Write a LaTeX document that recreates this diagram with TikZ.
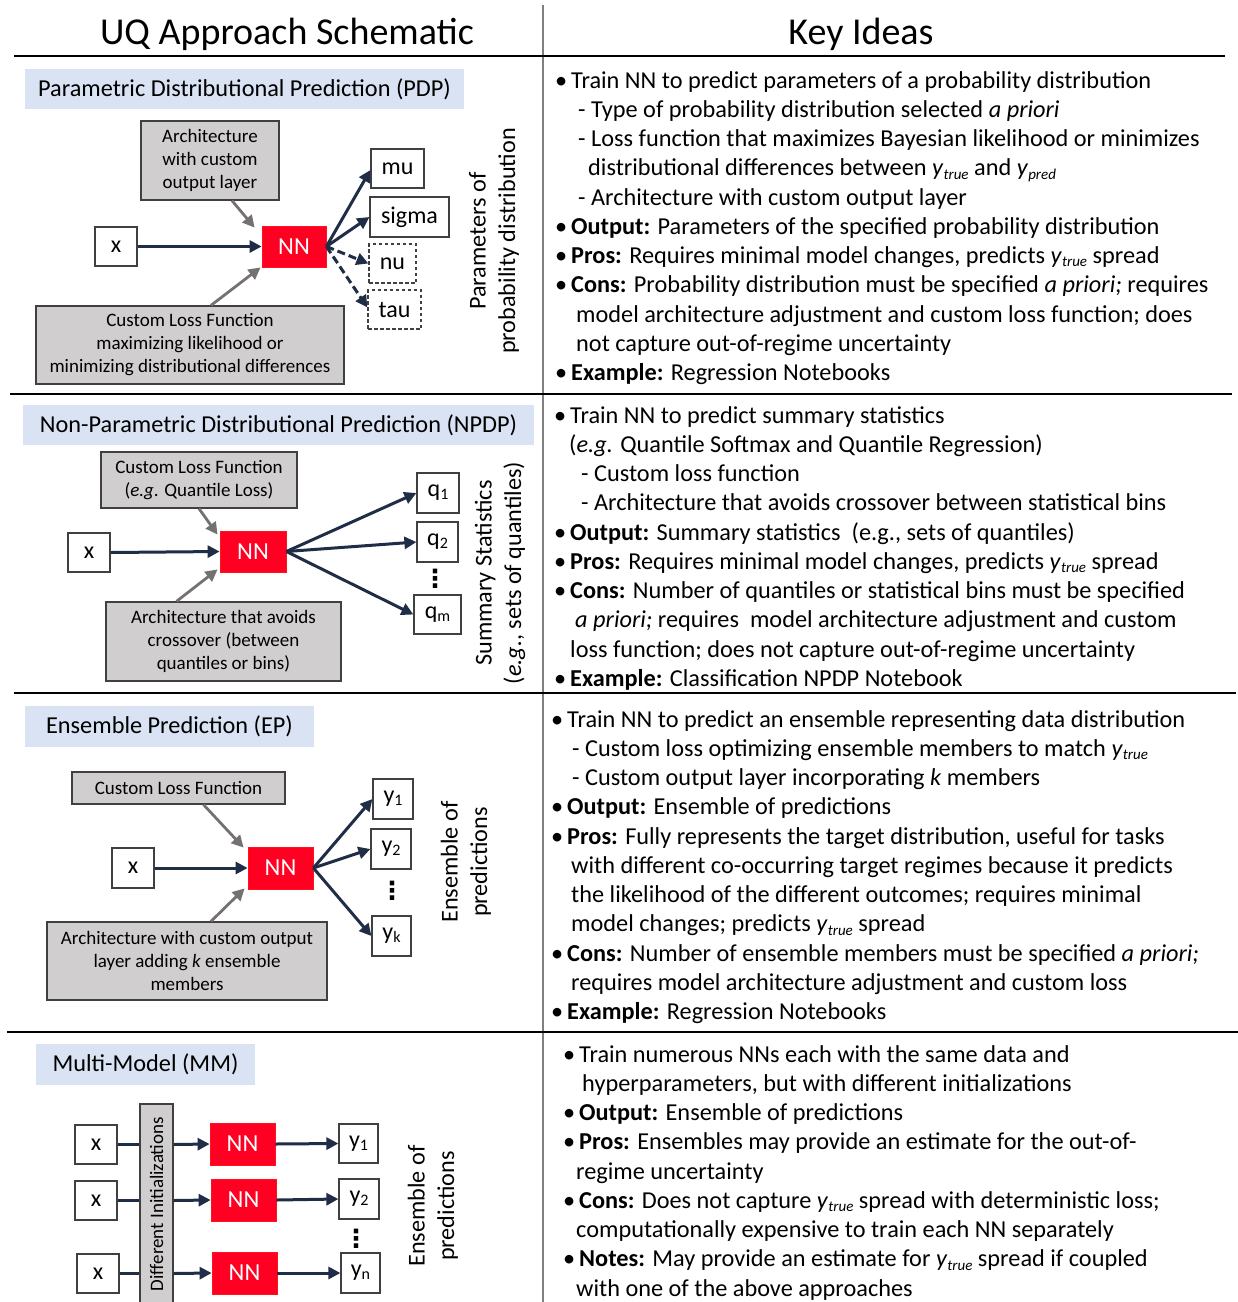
\documentclass[tikz,border=0pt]{standalone}
\usepackage{fontspec}
\setmainfont{Carlito}
\newfontfamily\symfont{DejaVu Sans}
\usetikzlibrary{arrows.meta,calc}

\definecolor{hdrblue}{HTML}{DAE3F3}
\definecolor{boxgray}{HTML}{D0CECE}
\definecolor{boxline}{HTML}{404040}
\definecolor{nnred}{HTML}{FF0022}
\definecolor{navy}{HTML}{1F2D47}
\definecolor{arrgray}{HTML}{767171}
\definecolor{rulegray}{HTML}{808080}

% italic y with a lowered italic label
\newcommand\yt{\textit{y}\raisebox{-0.28ex}{\fontsize{15}{15}\selectfont\itshape true}}
\newcommand\yp{\textit{y}\raisebox{-0.28ex}{\fontsize{15}{15}\selectfont\itshape pred}}
% upright index
\newcommand\idx[1]{\raisebox{-0.25ex}{\fontsize{16}{16}\selectfont #1}}
% bullet with hanging space
\newcommand\bul{\makebox[16pt][l]{\textbullet}}
% one line of the key-ideas text
\newcommand\kl[4]{\node[body] (#1) at (#2,#3) {#4};}

\tikzset{
  hdr/.style={fill=hdrblue, font=\fontsize{24.3}{29}\selectfont, inner sep=0pt},
  graybox/.style={fill=boxgray, draw=boxline, line width=1.3pt, font=\fontsize{19}{23}\selectfont, align=center, inner sep=0pt},
  outbox/.style={draw=boxline, fill=white, line width=1.2pt, font=\fontsize{24}{29}\selectfont, inner sep=0pt},
  dashbox/.style={outbox, dash pattern=on 3.5pt off 2.5pt},
  nnbox/.style={fill=nnred, draw=nnred!85!orange, line width=0.8pt, text=white, font=\fontsize{24.5}{29}\selectfont, inner sep=0pt},
  tip/.style={-{Triangle[length=12pt,width=12pt]}},
  flow/.style={draw=navy, line width=3pt, tip},
  flowdash/.style={flow, dash pattern=on 8pt off 4pt},
  feed/.style={draw=arrgray, line width=2.8pt, tip},
  plain/.style={draw=navy, line width=3pt},
  side/.style={rotate=90, align=center, font=\fontsize{24.2}{29.5}\selectfont, inner sep=0pt},
  body/.style={anchor=base west, inner sep=0pt, font=\fontsize{24.3}{29.25}\selectfont},
  title/.style={anchor=base, inner sep=0pt, font=\fontsize{38}{44}\selectfont},
  rule/.style={line width=1.3pt, draw=black},
  dots/.style={inner sep=0pt, font=\symfont\bfseries\fontsize{25}{25}\selectfont},
}

\begin{document}
\begin{tikzpicture}[x=1pt, y=-1pt]
\fill[white] (0,0) rectangle (1238,1302);
\useasboundingbox (0,0) rectangle (1238,1302);

% ---------- table frame ----------
\draw[rulegray, line width=1.2pt] (543,5) -- (543,1302);
\draw[rule] (14,56) -- (1225,56);
\draw[rule] (10,394) -- (1232,394);
\draw[rule] (14,693) -- (1236,693);
\draw[rule] (7,1032) -- (1238,1032);

\node[title] (tleft) at (287,44) {UQ Approach Schematic};
\node[title] (tright) at (861,44) {Key Ideas};

% ---------- PDP ----------
\node[hdr, minimum width=439, minimum height=40] (hdr1) at (244.5,89) {Parametric Distributional Prediction (PDP)};
\node[graybox, minimum width=138, minimum height=79] (arch1) at (210,160.5) {Architecture\\with custom\\output layer};
\node[outbox, minimum width=42, minimum height=39] (x1) at (116,246.5) {x};
\node[nnbox, minimum width=64, minimum height=41] (nn1) at (294,246.5) {NN};
\node[outbox, minimum width=53, minimum height=39] (mu) at (397.5,168.5) {mu};
\node[outbox, minimum width=79, minimum height=40] (sigma) at (409.5,217) {sigma};
\node[dashbox, minimum width=47, minimum height=39] (nu) at (392.5,263.5) {nu};
\node[dashbox, minimum width=53, minimum height=39] (tau) at (394.5,309.5) {tau};
\node[graybox, minimum width=308, minimum height=78] (loss1) at (190,345) {Custom Loss Function\\maximizing likelihood or\\minimizing distributional differences};
\node[side] (side1) at (494,241) {Parameters of\\probability distribution};

\draw[flow] (x1.east) -- (nn1.west);
\draw[feed] ($(arch1.south)+(22,0)$) -- ($(nn1.north west)+(-7,2)$);
\draw[feed] ($(loss1.north)+(21,0)$) -- ($(nn1.south west)+(-1,0)$);
\draw[flow] (nn1.east) -- ($(mu.west)+(0,1.5)$);
\draw[flow] (nn1.east) -- (sigma.west);
\draw[flowdash] (nn1.east) -- (nu.west);
\draw[flowdash] (nn1.east) -- ($(tau.west)+(0,-2)$);

\kl{a1}{555}{88}{\bul Train NN to predict parameters of a probability distribution}
\kl{a2}{578}{117.25}{- Type of probability distribution selected \textit{a priori}}
\kl{a3}{578}{146.5}{- Loss function that maximizes Bayesian likelihood or minimizes}
\kl{a4}{588}{175.75}{distributional differences between \yt{} and \yp}
\kl{a5}{578}{205}{- Architecture with custom output layer}
\kl{a6}{555}{234.25}{\bul\textbf{Output:} Parameters of the specified probability distribution}
\kl{a7}{555}{263.5}{\bul\textbf{Pros:} Requires minimal model changes, predicts \yt{} spread}
\kl{a8}{555}{292.75}{\bul\textbf{Cons:} Probability distribution must be specified \textit{a priori;} requires}
\kl{a9}{576}{322}{model architecture adjustment and custom loss function; does}
\kl{a10}{576}{351.25}{not capture out-of-regime uncertainty}
\kl{a11}{555}{380.5}{\bul\textbf{Example:} Regression Notebooks}

% ---------- NPDP ----------
\node[hdr, minimum width=511, minimum height=40] (hdr2) at (278.5,425) {Non-Parametric Distributional Prediction (NPDP)};
\node[graybox, minimum width=196, minimum height=56] (loss2) at (199,480) {Custom Loss Function\\(\textit{e.g}. Quantile Loss)};
\node[outbox, minimum width=42, minimum height=39] (x2) at (89,552.5) {x};
\node[nnbox, minimum width=66, minimum height=41] (nn2) at (253,551.5) {NN};
\node[outbox, minimum width=42, minimum height=40] (q1) at (438,493) {q\idx{1}};
\node[outbox, minimum width=41, minimum height=40] (q2) at (437.5,542) {q\idx{2}};
\node[dots] (dots2) at (435,579) {⋮};
\node[outbox, minimum width=47, minimum height=39] (qm) at (437.5,614.5) {q\idx{m}};
\node[graybox, minimum width=235, minimum height=79] (arch2) at (223.5,641.5) {Architecture that avoids\\crossover (between\\quantiles or bins)};
\node[side] (side2) at (500,573) {Summary Statistics\\(\textit{e.g.}, sets of quantiles)};

\draw[flow] (x2.east) -- (nn2.west);
\draw[feed] (loss2.south) -- ($(nn2.north west)+(-2,4)$);
\draw[feed] ($(arch2.north)+(-47,0)$) -- ($(nn2.south west)+(-2,-3)$);
\draw[flow] (nn2.east) -- (q1.west);
\draw[flow] (nn2.east) -- (q2.west);
\draw[flow] (nn2.east) -- (qm.west);

\kl{b1}{554}{423}{\bul Train NN to predict summary statistics}
\kl{b2}{569}{452.25}{(\textit{e.g.} Quantile Softmax and Quantile Regression)}
\kl{b3}{581}{481.5}{- Custom loss function}
\kl{b4}{581}{510.75}{- Architecture that avoids crossover between statistical bins}
\kl{b5}{554}{540}{\bul\textbf{Output:} Summary statistics\ \ (e.g., sets of quantiles)}
\kl{b6}{554}{569.25}{\bul\textbf{Pros:} Requires minimal model changes, predicts \yt{} spread}
\kl{b7}{554}{598.5}{\bul\textbf{Cons:} Number of quantiles or statistical bins must be specified}
\kl{b8}{575}{627.75}{\textit{a priori;} requires\ \ model architecture adjustment and custom}
\kl{b9}{570}{657}{loss function; does not capture out-of-regime uncertainty}
\kl{b10}{554}{686.25}{\bul\textbf{Example:} Classification NPDP Notebook}

% ---------- EP ----------
\node[hdr, minimum width=289, minimum height=41] (hdr3) at (169.5,726.5) {Ensemble Prediction (EP)};
\node[graybox, minimum width=213, minimum height=32] (loss3) at (178.5,788) {Custom Loss Function};
\node[outbox, minimum width=42, minimum height=40] (x3) at (133,868) {x};
\node[nnbox, minimum width=65, minimum height=42] (nn3) at (280.5,868) {NN};
\node[outbox, minimum width=40, minimum height=40] (ya1) at (393,799) {y\idx{1}};
\node[outbox, minimum width=40, minimum height=40] (ya2) at (391,849) {y\idx{2}};
\node[dots] (dots3) at (392,891) {⋮};
\node[outbox, minimum width=39, minimum height=40] (yak) at (391.5,936) {y\idx{k}};
\node[graybox, minimum width=280, minimum height=78] (arch3) at (187,961) {Architecture with custom output\\layer adding \textit{k} ensemble\\members};
\node[side] (side3) at (466,862) {Ensemble of\\predictions};

\draw[flow] (x3.east) -- (nn3.west);
\draw[feed] ($(loss3.south)+(25,0)$) -- ($(nn3.north west)+(-4,1)$);
\draw[feed] ($(arch3.north)+(24,0)$) -- ($(nn3.south west)+(-3,-1)$);
\draw[flow] (nn3.east) -- (ya1.west);
\draw[flow] (nn3.east) -- (ya2.west);
\draw[flow] (nn3.east) -- (yak.west);

\kl{c1}{551}{727}{\bul Train NN to predict an ensemble representing data distribution}
\kl{c2}{572}{756.25}{- Custom loss optimizing ensemble members to match \yt}
\kl{c3}{572}{785.5}{- Custom output layer incorporating \textit{k} members}
\kl{c4}{551}{814.75}{\bul\textbf{Output:} Ensemble of predictions}
\kl{c5}{551}{844}{\bul\textbf{Pros:} Fully represents the target distribution, useful for tasks}
\kl{c6}{571}{873.25}{with different co-occurring target regimes because it predicts}
\kl{c7}{571}{902.5}{the likelihood of the different outcomes; requires minimal}
\kl{c8}{571}{931.75}{model changes; predicts \yt{} spread}
\kl{c9}{551}{961}{\bul\textbf{Cons:} Number of ensemble members must be specified \textit{a priori;}}
\kl{c10}{571}{990.25}{requires model architecture adjustment and custom loss}
\kl{c11}{551}{1019.5}{\bul\textbf{Example:} Regression Notebooks}

% ---------- MM ----------
\node[hdr, minimum width=219, minimum height=41] (hdr4) at (145.5,1064.5) {Multi-Model (MM)};
\node[graybox, minimum width=200, minimum height=33, rotate=90] (init) at (156.5,1204) {Different Initializations};
\node[outbox, minimum width=42, minimum height=39] (xa) at (96,1144.5) {x};
\node[outbox, minimum width=42, minimum height=39] (xb) at (96,1200.5) {x};
\node[outbox, minimum width=42, minimum height=39] (xc) at (98,1273.5) {x};
\node[nnbox, minimum width=65, minimum height=42] (nna) at (242.5,1144) {NN};
\node[nnbox, minimum width=65, minimum height=42] (nnb) at (243.5,1200) {NN};
\node[nnbox, minimum width=65, minimum height=42] (nnc) at (244.5,1273) {NN};
\node[outbox, minimum width=39, minimum height=39] (ym1) at (358.5,1143.5) {y\idx{1}};
\node[outbox, minimum width=40, minimum height=40] (ym2) at (359,1199) {y\idx{2}};
\node[dots] (dots4) at (356,1239) {⋮};
\node[outbox, minimum width=39, minimum height=40] (ymn) at (360.5,1273) {y\idx{n}};
\node[side] (side4) at (433,1206) {Ensemble of\\predictions};

\draw[plain] (xa.east) -- (xa.east -| init.north);
\draw[plain] (xb.east) -- (xb.east -| init.north);
\draw[plain] (xc.east) -- (xc.east -| init.north);
\draw[flow] (xa.east -| init.south) -- (nna.west);
\draw[flow] (xb.east -| init.south) -- (nnb.west);
\draw[flow] (xc.east -| init.south) -- (nnc.west);
\draw[flow] (nna.east) -- (ym1.west);
\draw[flow] (nnb.east) -- (ym2.west);
\draw[flow] (nnc.east) -- (ymn.west);

\kl{d1}{563}{1062}{\bul Train numerous NNs each with the same data and}
\kl{d2}{582}{1091.25}{hyperparameters, but with different initializations}
\kl{d3}{563}{1120.5}{\bul\textbf{Output:} Ensemble of predictions}
\kl{d4}{563}{1149.75}{\bul\textbf{Pros:} Ensembles may provide an estimate for the out-of-}
\kl{d5}{576}{1179}{regime uncertainty}
\kl{d6}{563}{1208.25}{\bul\textbf{Cons:} Does not capture \yt{} spread with deterministic loss;}
\kl{d7}{576}{1237.5}{computationally expensive to train each NN separately}
\kl{d8}{563}{1266.75}{\bul\textbf{Notes:} May provide an estimate for \yt{} spread if coupled}
\kl{d9}{576}{1296}{with one of the above approaches}
\end{tikzpicture}
\end{document}
